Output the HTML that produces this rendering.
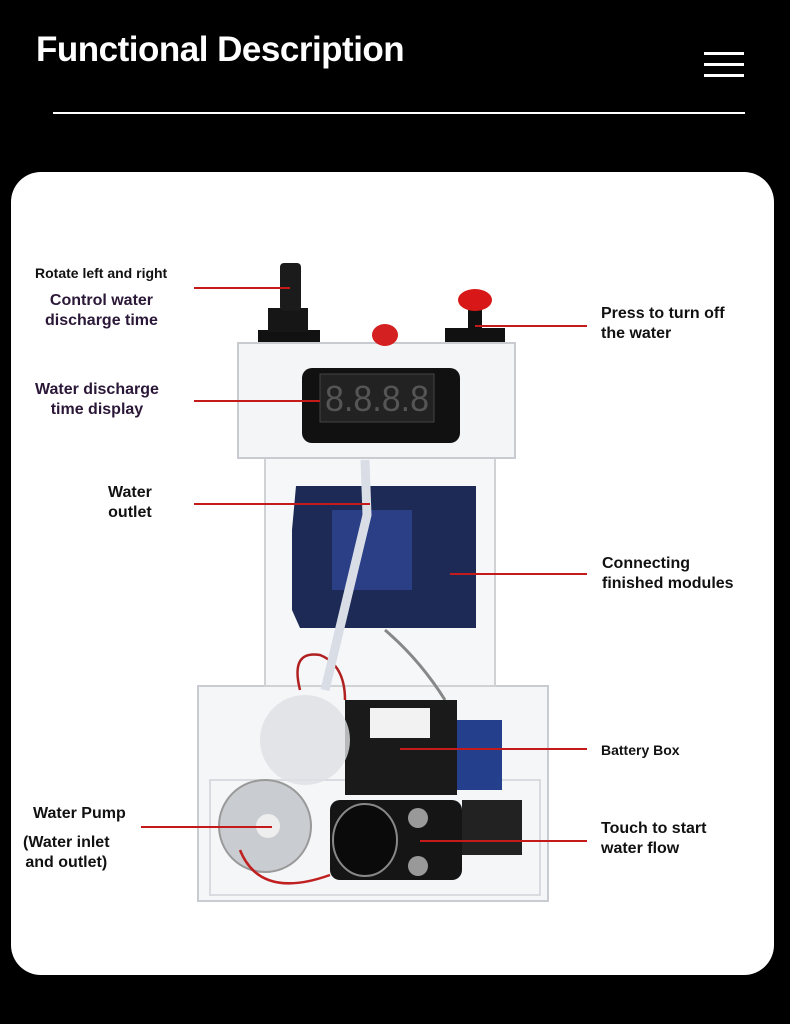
<!DOCTYPE html>
<html><head><meta charset="utf-8"><style>
html,body{margin:0;padding:0;background:#000;width:790px;height:1024px;overflow:hidden;font-family:"Liberation Sans","DejaVu Sans",sans-serif}
.t{position:absolute;font-weight:bold;white-space:nowrap;line-height:20px}
.d{color:#111}.p{color:#2b1838}
</style></head><body>
<div class="t" style="left:36px;top:28px;font-size:35px;line-height:44px;color:#fff;letter-spacing:-0.5px">Functional Description</div>
<div style="position:absolute;left:704px;top:52px;width:40px;height:3px;background:#fff"></div>
<div style="position:absolute;left:704px;top:63px;width:40px;height:3px;background:#fff"></div>
<div style="position:absolute;left:704px;top:74px;width:40px;height:3px;background:#fff"></div>
<div style="position:absolute;left:53px;top:112px;width:692px;height:2px;background:#fff"></div>
<div style="position:absolute;left:11px;top:172px;width:763px;height:803px;background:#fff;border-radius:30px"></div>
<svg style="position:absolute;left:0;top:0" width="790" height="1024">
<rect x="198" y="686" width="350" height="215" fill="#f4f6f8" stroke="#c8ccd0" stroke-width="2"/>
<rect x="210" y="780" width="330" height="115" fill="none" stroke="#d8dce0" stroke-width="2"/>
<rect x="265" y="458" width="230" height="228" fill="#f6f7f9" stroke="#cfd3d6" stroke-width="2"/>
<rect x="238" y="343" width="277" height="115" fill="#f3f5f7" stroke="#c8ccd0" stroke-width="2"/>
<path d="M296 486 H476 V628 H300 L292 610 V530 Z" fill="#1c2a55"/>
<rect x="332" y="510" width="80" height="80" fill="#2a3f86"/>
<path d="M300 690 Q290 650 320 655 Q345 665 345 700" fill="none" stroke="#b02020" stroke-width="2.5"/>
<path d="M385 630 Q420 660 445 700" fill="none" stroke="#888" stroke-width="3"/>
<path d="M365 460 L367 515 L325 690" fill="none" stroke="#d9dee6" stroke-width="9"/>
<rect x="302" y="368" width="158" height="75" rx="10" fill="#111"/>
<rect x="320" y="374" width="114" height="48" fill="#222" stroke="#444"/>
<text x="377" y="411" font-family="Liberation Sans,sans-serif" font-size="36" fill="#555" text-anchor="middle" textLength="104" lengthAdjust="spacingAndGlyphs">8.8.8.8</text>
<rect x="258" y="330" width="62" height="12" fill="#111"/>
<rect x="268" y="308" width="40" height="24" fill="#161616"/>
<rect x="280" y="263" width="21" height="48" rx="4" fill="#1b1b1b"/>
<ellipse cx="385" cy="335" rx="13" ry="11" fill="#d42020"/>
<rect x="445" y="328" width="60" height="14" fill="#111"/>
<rect x="468" y="310" width="14" height="20" fill="#111"/>
<ellipse cx="475" cy="300" rx="17" ry="11" fill="#d81818"/>
<rect x="345" y="700" width="112" height="95" fill="#1a1a1a"/>
<rect x="370" y="708" width="60" height="30" fill="#f2f2f2"/>
<rect x="457" y="720" width="45" height="70" fill="#24408c"/>
<circle cx="265" cy="826" r="46" fill="#c9ccd0" stroke="#999" stroke-width="2"/>
<circle cx="305" cy="740" r="45" fill="#dde0e4" opacity="0.8"/>
<circle cx="268" cy="826" r="12" fill="#eee"/>
<path d="M240 850 Q260 900 330 875" fill="none" stroke="#c02020" stroke-width="2.5"/>
<rect x="330" y="800" width="132" height="80" rx="10" fill="#151515"/>
<ellipse cx="365" cy="840" rx="32" ry="36" fill="#0a0a0a" stroke="#888" stroke-width="2"/>
<circle cx="418" cy="818" r="10" fill="#999"/><circle cx="418" cy="866" r="10" fill="#999"/>
<rect x="462" y="800" width="60" height="55" fill="#222"/>
<g stroke="#c41a1a" stroke-width="2">
<line x1="194" y1="288" x2="290" y2="288"/>
<line x1="194" y1="401" x2="320" y2="401"/>
<line x1="194" y1="504" x2="370" y2="504"/>
<line x1="475" y1="326" x2="587" y2="326"/>
<line x1="450" y1="574" x2="587" y2="574"/>
<line x1="400" y1="749" x2="587" y2="749"/>
<line x1="141" y1="827" x2="272" y2="827"/>
<line x1="420" y1="841" x2="587" y2="841"/>
</g>
</svg>
<div class="t d" style="left:35px;top:263px;font-size:14px">Rotate left and right</div>
<div class="t p" style="left:45px;top:291px;font-size:16px;text-align:center">Control water<br>discharge time</div>
<div class="t p" style="left:35px;top:380px;font-size:16px;text-align:center">Water discharge<br>time display</div>
<div class="t d" style="left:108px;top:483px;font-size:16px;text-align:center">Water<br>outlet</div>
<div class="t d" style="left:601px;top:304px;font-size:16px">Press to turn off<br>the water</div>
<div class="t d" style="left:602px;top:554px;font-size:16px">Connecting<br>finished modules</div>
<div class="t d" style="left:601px;top:740px;font-size:14px">Battery Box</div>
<div class="t d" style="left:33px;top:804px;font-size:16px">Water Pump</div>
<div class="t d" style="left:23px;top:833px;font-size:16px;text-align:center">(Water inlet<br>and outlet)</div>
<div class="t d" style="left:601px;top:819px;font-size:16px">Touch to start<br>water flow</div>
</body></html>
